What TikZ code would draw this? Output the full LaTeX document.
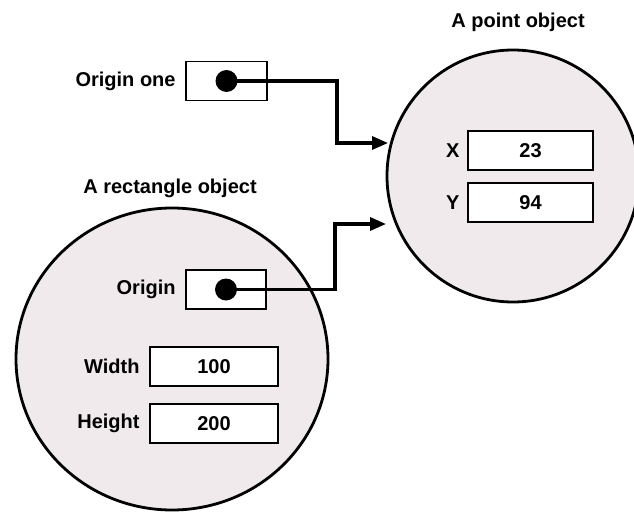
\documentclass[tikz,border=0pt]{standalone}
\usepackage{fontspec}
\setmainfont{Liberation Sans}
\usetikzlibrary{arrows.meta, positioning}
\definecolor{paper}{RGB}{240,234,236}

\begin{document}
\begin{tikzpicture}[x=1pt, y=-1pt,
    every node/.style={font=\fontsize{20}{23}\selectfont\bfseries},
    field/.style={draw, fill=white, line width=1.8pt, minimum height=39pt, inner sep=0pt},
    refdot/.style={fill=black, circle, minimum size=22pt, inner sep=0pt},
    link/.style={line width=3.2pt, -{Triangle[length=16pt,width=13pt]}},
    obj/.style={draw, line width=2.8pt, fill=paper}]
      \useasboundingbox (0,0) rectangle (634,511);
      % Objects
      \draw[obj] (172,359) ellipse [x radius=156, y radius=151];
      \draw[obj] (513,176) circle [radius=126];
      \node (rectTitle) at (170,188) {A rectangle object};
      \node (pointTitle) at (518,22) {A point object};
      % Reference variable
      \node[field, minimum width=81pt] (oneBox) at (226.5,81) {};
      \node[left=6pt of oneBox] (oneLabel) {Origin one};
      % Rectangle fields
      \node[field, minimum width=80pt] (originBox) at (226,289.5) {};
      \node[left=6pt of originBox] (originLabel) {Origin};
      \node[field, minimum width=128pt] (widthBox) at (214,366.5) {100};
      \node[left=6pt of widthBox] (widthLabel) {Width};
      \node[field, minimum width=128pt] (heightBox) at (214,423.5) {200};
      \node[left=6pt of heightBox] (heightLabel) {Height};
      % Point fields
      \node[field, minimum width=125pt] (xBox) at (530.5,150.5) {23};
      \node[left=4pt of xBox] (xLabel) {X};
      \node[field, minimum width=125pt] (yBox) at (530.5,202.5) {94};
      \node[left=4pt of yBox] (yLabel) {Y};
      % Arrows
      \coordinate (oneBend) at (337,143);
      \coordinate (oneTip) at (388,143);
      \draw[link] (oneBox.center) -| (oneBend) -- (oneTip);
      \coordinate (originBend) at (335,224);
      \coordinate (originTip) at (386,224);
      \draw[link] (originBox.center) -| (originBend) -- (originTip);
      \node[refdot] (oneDot) at (oneBox) {};
      \node[refdot] (originDot) at (originBox) {};
    \end{tikzpicture}
\end{document}
